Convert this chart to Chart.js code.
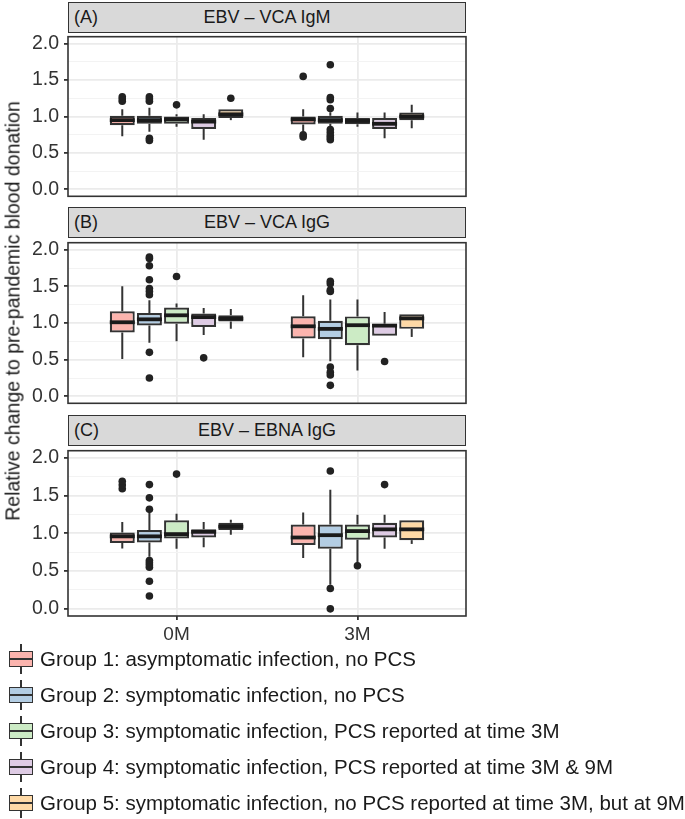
<!DOCTYPE html>
<html><head><meta charset="utf-8">
<script src="https://cdn.jsdelivr.net/npm/chart.js@4.4.0/dist/chart.umd.min.js"></script>
<style>
body{margin:0;background:#fff;}
#wrap{position:relative;width:685px;height:819px;overflow:hidden;font-family:"Liberation Sans",Arial,sans-serif;background:#fff;}
canvas{position:absolute;left:0;}
.strip{position:absolute;left:68px;width:398px;height:31px;background:#d9d9d9;border:1.6px solid #333;box-sizing:border-box;color:#1a1a1a;font-size:18px;}
.strip .tag{position:absolute;left:5px;top:4px;}
.strip .ttl{position:absolute;left:0;right:0;top:4px;text-align:center;}
#ytitle{position:absolute;left:13px;top:311px;transform:translate(-50%,-50%) rotate(-90deg);white-space:nowrap;font-size:19.5px;color:#1a1a1a;}
.leg{position:absolute;left:0;height:36px;width:685px;}
.leg .key{position:absolute;left:9px;top:3px;width:24px;height:30px;}
.leg .wh{position:absolute;left:11.2px;width:1.6px;background:#333;}
.leg .bx{position:absolute;left:0;top:7px;width:24px;height:16px;border:1.6px solid #333;box-sizing:border-box;}
.leg .md{position:absolute;left:0;top:14px;width:24px;height:2px;background:#333;}
.leg .txt{position:absolute;left:40px;top:6px;font-size:20.5px;color:#1a1a1a;white-space:nowrap;}
</style>
</head><body>
<div id="wrap">
  <canvas id="cA" width="470" height="193" style="top:20px;width:470px;height:193px"></canvas>
  <canvas id="cB" width="470" height="194" style="top:226px;width:470px;height:194px"></canvas>
  <canvas id="cC" width="470" height="214" style="top:434px;width:470px;height:214px"></canvas>
  <div id="ytitle">Relative change to pre-pandemic blood donation</div>
</div>
<script>
// ---------- categories / labels ----------
const timepoints = ['0M', '3M'];
const groupLabels = [
  'Group 1: asymptomatic infection, no PCS',
  'Group 2: symptomatic infection, no PCS',
  'Group 3: symptomatic infection, PCS reported at time 3M',
  'Group 4: symptomatic infection, PCS reported at time 3M & 9M',
  'Group 5: symptomatic infection, no PCS reported at time 3M, but at 9M'
];
const groupColors = ['#FBB4AE', '#B3CDE3', '#CCEBC5', '#DECBE4', '#FED9A6'];
const panelTags = ['(A)', '(B)', '(C)'];
const panelTitles = ['EBV – VCA IgM', 'EBV – VCA IgG', 'EBV – EBNA IgG'];
const yTickValues = [0, 0.5, 1, 1.5, 2];
const yTickLabels = ['0.0', '0.5', '1.0', '1.5', '2.0'];
const yMinorValues = [0.25, 0.75, 1.25, 1.75];

// ---------- Panel A: EBV – VCA IgM  (rows: 0M, 3M; columns: groups 1-5) ----------
const igmLow  = [[0.73, 0.79, 0.86, 0.68, 0.95], [0.79, 0.86, 0.86, 0.70, 0.84]];
const igmQ1   = [[0.88, 0.90, 0.90, 0.83, 0.98], [0.89, 0.90, 0.895, 0.83, 0.95]];
const igmMed  = [[0.95, 0.95, 0.96, 0.93, 1.03], [0.96, 0.95, 0.94, 0.90, 1.00]];
const igmQ3   = [[1.01, 1.01, 1.00, 0.98, 1.10], [1.00, 1.01, 0.98, 0.98, 1.055]];
const igmHigh = [[1.10, 1.12, 1.03, 1.03, 1.10], [1.10, 1.06, 1.055, 1.055, 1.16]];
const igmOut  = [
  [[1.21, 1.24, 1.27], [1.21, 1.24, 1.27, 0.67, 0.70], [1.16], [], [1.25]],
  [[1.55, 0.72, 0.75], [1.11, 1.23, 1.26, 1.71, 0.68, 0.71, 0.74, 0.78, 0.82], [], [], []]
];

// ---------- Panel B: EBV – VCA IgG ----------
const vcaLow  = [[0.51, 0.73, 0.75, 0.835, 0.92], [0.534, 0.48, 0.353, 0.826, 0.81]];
const vcaQ1   = [[0.87, 0.965, 0.99, 0.947, 1.02], [0.79, 0.78, 0.697, 0.826, 0.92]];
const vcaMed  = [[1.01, 1.05, 1.105, 1.08, 1.06], [0.955, 0.92, 0.97, 0.964, 1.063]];
const vcaQ3   = [[1.16, 1.135, 1.21, 1.128, 1.105], [1.093, 1.03, 1.09, 0.99, 1.12]];
const vcaHigh = [[1.50, 1.31, 1.265, 1.205, 1.19], [1.377, 1.32, 1.32, 1.15, 1.12]];
const vcaOut  = [
  [[], [1.385, 1.43, 1.47, 1.59, 1.78, 1.88, 1.90, 0.60, 0.25], [1.635], [0.525], []],
  [[], [1.43, 1.45, 1.535, 1.57, 0.40, 0.33, 0.29, 0.15], [], [0.474], []]
];

// ---------- Panel C: EBV – EBNA IgG ----------
const ebnaLow  = [[0.80, 0.69, 0.795, 0.817, 0.98], [0.675, 0.32, 0.60, 0.795, 0.86]];
const ebnaQ1   = [[0.873, 0.88, 0.933, 0.946, 1.045], [0.846, 0.795, 0.916, 0.946, 0.91]];
const ebnaMed  = [[0.96, 0.96, 0.99, 1.02, 1.09], [0.945, 0.976, 1.03, 1.053, 1.053]];
const ebnaQ3   = [[1.01, 1.045, 1.174, 1.053, 1.14], [1.118, 1.118, 1.118, 1.14, 1.174]];
const ebnaHigh = [[1.15, 1.29, 1.26, 1.15, 1.18], [1.277, 1.578, 1.247, 1.247, 1.174]];
const ebnaOut  = [
  [[1.59, 1.64, 1.69], [1.32, 1.47, 1.646, 0.64, 0.61, 0.58, 0.55, 0.365, 0.17], [1.785], [], []],
  [[], [1.827, 0.27, 0.0], [0.57], [1.646], []]
];

// ---------- drawing ----------
const FONT = '"Liberation Sans", Arial, sans-serif';
const DODGE = 0.75;                       // total dodge width per timepoint
const nG = groupLabels.length;
const offsetOf = g => (g - (nG - 1) / 2) * DODGE / nG;

const boxPlugin = {
  id: 'boxParts',
  beforeDatasetsDraw(chart) {
    const ys = chart.scales.y, ctx = chart.ctx;
    ctx.save();
    ctx.strokeStyle = '#333'; ctx.lineWidth = 2;
    chart.data.datasets.forEach((ds, di) => {
      if (ds.type !== 'bar') return;
      const meta = chart.getDatasetMeta(di);
      meta.data.forEach((el, i) => {
        const s = ds.stats[i];
        ctx.beginPath();
        ctx.moveTo(el.x, ys.getPixelForValue(s.q3)); ctx.lineTo(el.x, ys.getPixelForValue(s.hi));
        ctx.moveTo(el.x, ys.getPixelForValue(s.q1)); ctx.lineTo(el.x, ys.getPixelForValue(s.lo));
        ctx.stroke();
      });
    });
    ctx.restore();
  },
  afterDatasetsDraw(chart) {
    const ys = chart.scales.y, ctx = chart.ctx;
    ctx.save();
    ctx.strokeStyle = '#1a1a1a'; ctx.lineWidth = 3.8;
    chart.data.datasets.forEach((ds, di) => {
      if (ds.type !== 'bar') return;
      const meta = chart.getDatasetMeta(di);
      meta.data.forEach((el, i) => {
        const py = ys.getPixelForValue(ds.stats[i].med);
        ctx.beginPath();
        ctx.moveTo(el.x - el.width / 2, py); ctx.lineTo(el.x + el.width / 2, py);
        ctx.stroke();
      });
    });
    ctx.restore();
  },
  afterDraw(chart) {
    const a = chart.chartArea, ctx = chart.ctx;
    ctx.save();
    ctx.strokeStyle = '#333'; ctx.lineWidth = 1.6;
    ctx.strokeRect(a.left, a.top, a.right - a.left, a.bottom - a.top);
    ctx.restore();
  }
};

function buildPanel(id, low, q1, med, q3, high, outs, showX) {
  const datasets = [];
  for (let g = 0; g < nG; g++) {
    const pts = [];
    timepoints.forEach((t, i) => outs[i][g].forEach(v => pts.push({ x: i + offsetOf(g), y: v })));
    datasets.push({
      type: 'scatter', label: groupLabels[g] + ' outliers', data: pts,
      pointRadius: 3.8, pointBackgroundColor: '#222', pointBorderWidth: 0, pointHoverRadius: 3.8
    });
  }
  for (let g = 0; g < nG; g++) {
    datasets.push({
      type: 'bar', label: groupLabels[g],
      data: timepoints.map((t, i) => ({ x: i + offsetOf(g), y: [q1[i][g], q3[i][g]] })),
      stats: timepoints.map((t, i) => ({ lo: low[i][g], q1: q1[i][g], med: med[i][g], q3: q3[i][g], hi: high[i][g] })),
      backgroundColor: groupColors[g], borderColor: '#333', borderWidth: 2.2, borderSkipped: false,
      grouped: false, barPercentage: 0.92, categoryPercentage: 1
    });
  }
  return new Chart(document.getElementById(id), {
    data: { datasets },
    plugins: [boxPlugin],
    options: {
      responsive: false, animation: false, events: [],
      layout: { padding: { top: 12, right: 4, left: 0, bottom: showX ? 4 : 12 } },
      plugins: { legend: { display: false }, tooltip: { enabled: false } },
      scales: {
        x: {
          type: 'linear', min: -0.6, max: 1.6, offset: false,
          afterBuildTicks: s => { s.ticks = timepoints.map((t, i) => ({ value: i })); },
          afterFit: s => { s.height = showX ? 28 : 0; },
          ticks: { display: showX, autoSkip: false, maxRotation: 0, padding: 3,
                   callback: v => timepoints[v] !== undefined ? timepoints[v] : '',
                   font: { family: FONT, size: 19 }, color: '#333' },
          grid: { offset: false, color: '#ebebeb', lineWidth: 1.8, drawTicks: showX, tickLength: 4, tickColor: '#333' },
          border: { display: false }
        },
        y: {
          type: 'linear', min: -0.095, max: 2.095,
          afterBuildTicks: s => {
            s.ticks = yTickValues.concat(yMinorValues).sort((a, b) => a - b).map(v => ({ value: v }));
          },
          afterFit: s => { s.width = 68; },
          ticks: { autoSkip: false, padding: 5,
                   callback: v => { const k = yTickValues.indexOf(v); return k >= 0 ? yTickLabels[k] : ''; },
                   font: { family: FONT, size: 19.5 }, color: '#333' },
          grid: {
            color: c => yTickValues.includes(c.tick.value) ? '#ebebeb' : '#f3f3f3',
            lineWidth: c => yTickValues.includes(c.tick.value) ? 1.8 : 1,
            tickLength: 4,
            tickColor: c => yTickValues.includes(c.tick.value) ? '#333' : 'rgba(0,0,0,0)'
          },
          border: { display: false }
        }
      }
    }
  });
}

buildPanel('cA', igmLow, igmQ1, igmMed, igmQ3, igmHigh, igmOut, false);
buildPanel('cB', vcaLow, vcaQ1, vcaMed, vcaQ3, vcaHigh, vcaOut, false);
buildPanel('cC', ebnaLow, ebnaQ1, ebnaMed, ebnaQ3, ebnaHigh, ebnaOut, true);

// strips
const wrap = document.getElementById('wrap');
const stripTops = [2, 207, 415];
panelTitles.forEach((t, k) => {
  const d = document.createElement('div');
  d.className = 'strip'; d.style.top = stripTops[k] + 'px';
  d.innerHTML = '<span class="tag"></span><span class="ttl"></span>';
  d.querySelector('.tag').textContent = panelTags[k];
  d.querySelector('.ttl').textContent = t;
  wrap.appendChild(d);
});
// legend
groupLabels.forEach((lab, g) => {
  const row = document.createElement('div');
  row.className = 'leg'; row.style.top = (641 + 36 * g) + 'px';
  row.innerHTML = '<div class="key"><div class="wh" style="top:0;height:7px"></div><div class="wh" style="top:23px;height:7px"></div>' +
    '<div class="bx"></div><div class="md"></div></div><div class="txt"></div>';
  row.querySelector('.bx').style.background = groupColors[g];
  row.querySelector('.txt').textContent = lab;
  wrap.appendChild(row);
});
</script>
</body></html>
